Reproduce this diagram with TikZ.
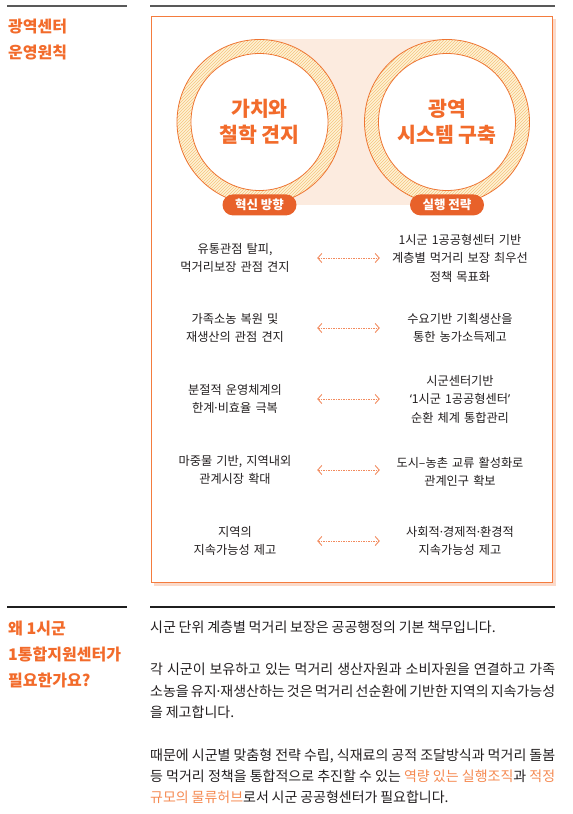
\documentclass[tikz,border=0pt]{standalone}
\usepackage{fontspec}
\setmainfont{Noto Sans CJK KR}
\newfontfamily\latinfont{Noto Sans}
\newcommand{\mdot}{{\latinfont ·}}
\newcommand{\tightspaces}{\spaceskip=0.2em plus 0.3em minus 0.05em\relax}
\usepackage{xcolor}
\usetikzlibrary{arrows.meta, positioning, patterns, backgrounds}

\definecolor{headorange}{HTML}{F26B2B}
\definecolor{frameorange}{HTML}{F47C3E}
\definecolor{shadoworange}{HTML}{FBDACA}
\definecolor{peach}{HTML}{FCEBDF}
\definecolor{ringline}{HTML}{EE7533}
\definecolor{ringbg}{HTML}{FEF2D6}
\definecolor{hatch}{HTML}{F6C47E}
\definecolor{badgeorange}{HTML}{E8612A}
\definecolor{dotorange}{HTML}{F28B5E}
\definecolor{hilite}{HTML}{F58A52}
\definecolor{bodyink}{HTML}{231F20}

\tikzset{
  ring/.style={circle, draw=ringline, line width=0.8pt, minimum size=165pt, inner sep=0pt,
               preaction={fill=ringbg}, pattern=north east lines, pattern color=hatch},
  core/.style={circle, draw=ringline, line width=0.8pt, fill=white, minimum size=137pt,
               inner sep=0pt, align=center, text=headorange,
               font=\fontsize{20.5}{26}\selectfont\bfseries},
  badge/.style={rectangle, rounded corners=10.5pt, fill=badgeorange, minimum width=74pt,
                minimum height=21pt, inner sep=0pt, text=white,
                font=\fontsize{12.5}{14}\selectfont\bfseries},
  item/.style={align=center, inner sep=0pt, text=bodyink,
               font=\fontsize{12.2}{18.5}\selectfont},
  linkarrow/.style={{Straight Barb[length=4pt, width=9pt]}-{Straight Barb[length=4pt, width=9pt]},
                    draw=dotorange, line width=0.9pt, dash pattern=on 1.5pt off 1pt},
  heading/.style={anchor=west, align=left, inner sep=0pt, text=headorange,
                  font=\fontsize{16}{26}\selectfont\bfseries},
  bodytext/.style={anchor=west, align=justify, text width=405pt, inner sep=0pt, text=bodyink,
                   font=\fontsize{14}{21.3}\selectfont\tightspaces},
  rulegray/.style={draw=black!65, line width=1.5pt},
  ruleblack/.style={draw=black!88, line width=1.5pt},
}

\begin{document}
\begin{tikzpicture}[x=1pt, y=-1pt]
  \useasboundingbox (0,0) rectangle (573,814);

  % Top rules and heading
  \draw[rulegray] (7,6) -- (127,6);
  \draw[rulegray] (150,6) -- (555,6);
  \node[heading] (principles) at (8,40) {광역센터\\운영원칙};

  % Circles
  \node[ring] (valuering) at (259.5,122) {};
  \node[ring] (systemring) at (447,122) {};
  \begin{scope}[on background layer]
    \fill[shadoworange] (154,19) rectangle (556,586);
    \draw[frameorange, fill=white, line width=1pt] (151,16) rectangle (552,582);
    \fill[peach] (valuering.north) rectangle (systemring.south);
  \end{scope}
  \node[core] (valuecore) at (valuering) {가치와\\철학 견지};
  \node[core] (systemcore) at (systemring) {광역\\시스템 구축};
  \node[badge] (innobadge) at (valuering.south) {혁신 방향};
  \node[badge] (execbadge) at (systemring.south) {실행 전략};

  % Paired items
  \node[item, text width=126pt] (dir1) at (235,258) {유통관점 탈피,\\먹거리보장 관점 견지};
  \node[item, text width=150pt] (plan1) at (460,258) {1시군 1공공형센터 기반\\계층별 먹거리 보장 최우선\\정책 목표화};
  \node[item, text width=126pt] (dir2) at (235,328) {가족소농 복원 및\\재생산의 관점 견지};
  \node[item, text width=150pt] (plan2) at (460,328) {수요기반 기획생산을\\통한 농가소득제고};
  \node[item, text width=126pt] (dir3) at (235,399) {분절적 운영체계의\\한계\mdot 비효율 극복};
  \node[item, text width=150pt] (plan3) at (460,399) {시군센터기반\\{\latinfont ‘}1시군 1공공형센터{\latinfont ’}\\순환 체계 통합관리};
  \node[item, text width=126pt] (dir4) at (235,470) {마중물 기반, 지역내외\\관계시장 확대};
  \node[item, text width=150pt] (plan4) at (460,472) {도시–농촌 교류 활성화로\\관계인구 확보};
  \node[item, text width=126pt] (dir5) at (235,541) {지역의\\지속가능성 제고};
  \node[item, text width=150pt] (plan5) at (460,541) {사회적\mdot 경제적\mdot 환경적\\지속가능성 제고};

  % Edges
  \draw[linkarrow, shorten <=19pt, shorten >=5pt] (dir1.east) -- (plan1.west);
  \draw[linkarrow, shorten <=19pt, shorten >=5pt] (dir2.east) -- (plan2.west);
  \draw[linkarrow, shorten <=19pt, shorten >=5pt] (dir3.east) -- (plan3.west);
  \draw[linkarrow, shorten <=19pt, shorten >=5pt] (dir4.east) -- (dir4.east -| plan4.west);
  \draw[linkarrow, shorten <=19pt, shorten >=5pt] (dir5.east) -- (plan5.west);

  % Bottom rules, heading and body
  \draw[ruleblack] (7,607) -- (127,607);
  \draw[ruleblack] (150,607) -- (555,607);
  \node[heading] (whyneeded) at (8,654) {왜 1시군\\1통합지원센터가\\필요한가요?};
  \node[bodytext] (para1) at (150,627) {시군 단위 계층별 먹거리 보장은 공공행정의 기본 책무입니다.};
  \node[bodytext] (para2) at (150,691) {각 시군이 보유하고 있는 먹거리 생산자원과 소비자원을 연결하고 가족\linebreak 소농을 유지\mdot 재생산하는 것은 먹거리 선순환에 기반한 지역의 지속가능성\linebreak 을 제고합니다.};
  \node[bodytext] (para3) at (150,776) {때문에 시군별 맞춤형 전략 수립, 식재료의 공적 조달방식과 먹거리 돌봄\linebreak 등 먹거리 정책을 통합적으로 추진할 수 있는 \textcolor{hilite}{역량 있는 실행조직}과 \textcolor{hilite}{적정\linebreak 규모의 물류허브}로서 시군 공공형센터가 필요합니다.};
\end{tikzpicture}
\end{document}
